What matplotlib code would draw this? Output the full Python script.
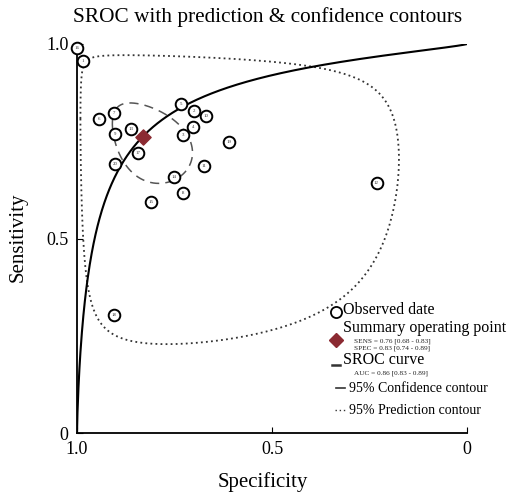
import numpy as np
import matplotlib.pyplot as plt
from matplotlib.lines import Line2D

plt.rcParams['font.family'] = ['Liberation Serif', 'DejaVu Serif']

# observed studies (specificity, sensitivity)
study = [16, 1, 6, 7, 9, 13, 17, 20, 5, 2, 10, 4, 3, 19, 11, 14, 8, 15, 12, 18]
spec = [1.00, 0.984, 0.943, 0.905, 0.902, 0.862, 0.843, 0.902, 0.734, 0.701,
        0.669, 0.703, 0.728, 0.611, 0.675, 0.752, 0.727, 0.810, 0.232, 0.904]
sens = [0.99, 0.957, 0.808, 0.823, 0.768, 0.781, 0.721, 0.691, 0.846, 0.828,
        0.815, 0.787, 0.767, 0.748, 0.686, 0.659, 0.616, 0.594, 0.642, 0.303]

# summary point and fitted model (logit scale)
sum_spec, sum_sens = 0.83, 0.76
sroc_a, sroc_b = 2.44, 0.80
conf_ax, conf_bx, conf_rho = 0.72, 0.57, 0.36
pred_ax, pred_bx, pred_rho = 3.14, 2.37, 0.12

ticks = [1.0, 0.5, 0.0]
tick_labels = ['1.0', '0.5', '0']


def logit(p):
    return np.log(p / (1 - p))


def expit(x):
    return 1 / (1 + np.exp(-x))


def contour(a, b, rho):
    t = np.linspace(0, 2 * np.pi, 500)
    cx, cy = logit(sum_spec), logit(sum_sens)
    x = cx + a * np.cos(t)
    y = cy + b * (rho * np.cos(t) + np.sqrt(1 - rho ** 2) * np.sin(t))
    return expit(x), expit(y)


W, H = 519, 496
fig = plt.figure(figsize=(W / 100, H / 100), dpi=100)
ax = fig.add_axes([77 / W, 1 - 433 / H, 390 / W, 389 / H])


def fx(px):
    return px / W


def fy(py):
    return 1 - py / H


# SROC curve
sp = np.linspace(0.0005, 0.99995, 800)
se = expit(sroc_a - sroc_b * logit(sp))
sp = np.concatenate([[0.0], sp, [1.0]])
se = np.concatenate([[1.0], se, [0.0]])
ax.plot(sp, se, color='black', lw=1.5, zorder=3)

# contours
px_, py_ = contour(pred_ax, pred_bx, pred_rho)
ax.plot(px_, py_, color='#333333', lw=1.3, ls=(0, (1, 1.8)), zorder=2)
cx_, cy_ = contour(conf_ax, conf_bx, conf_rho)
ax.plot(cx_, cy_, color='#555555', lw=1.1, ls=(0, (6, 4)), zorder=2)

# observed studies
ax.scatter(spec, sens, s=70, facecolor='white', edgecolor='black', lw=1.4,
           zorder=4, clip_on=False)
for s, x, y in zip(study, spec, sens):
    ax.text(x, y, str(s), fontsize=3.5, ha='center', va='center',
            color='#333333', zorder=5, clip_on=False)

# summary point
ax.scatter([sum_spec], [sum_sens], marker='D', s=60, color='#8b2a32',
           zorder=6)

ax.set_xlim(1, 0)
ax.set_ylim(0, 1)
ax.set_xticks(ticks)
ax.set_xticklabels(tick_labels)
ax.set_yticks(ticks)
ax.set_yticklabels(tick_labels)
ax.tick_params(direction='in', length=4, labelsize=13, pad=6)
for side in ['top', 'right']:
    ax.spines[side].set_visible(False)
for side in ['left', 'bottom']:
    ax.spines[side].set_linewidth(1.3)

fig.text(fx(263), fy(482), 'Specificity', fontsize=15, ha='center',
         va='center')
fig.text(fx(18), fy(237), 'Sensitivity', fontsize=15, ha='center',
         va='center', rotation=90)
fig.text(fx(268), fy(17), 'SROC with prediction & confidence contours',
         fontsize=15.3, ha='center', va='center')

# legend
fig.add_artist(Line2D([fx(336)], [fy(312)], marker='o', ms=8,
                      mfc='white', mec='black', mew=1.3))
fig.text(fx(343), fy(310), 'Observed date', fontsize=11.5, va='center')
fig.text(fx(343), fy(327.5), 'Summary operating point', fontsize=11.5,
         va='center')
fig.add_artist(Line2D([fx(336)], [fy(340)], marker='D', ms=7.5,
                      color='#8b2a32'))
fig.text(fx(354), fy(341), 'SENS = 0.76 [0.68 - 0.83]', fontsize=5.2,
         va='center', color='#222222')
fig.text(fx(354), fy(348), 'SPEC = 0.83 [0.74 - 0.89]', fontsize=5.2,
         va='center', color='#222222')
fig.add_artist(Line2D([fx(332), fx(340)], [fy(365)] * 2, color='#333333',
                      lw=1.8))
fig.text(fx(343), fy(360.5), 'SROC curve', fontsize=11.5, va='center')
fig.text(fx(354), fy(373.5), 'AUC = 0.86 [0.83 - 0.89]', fontsize=5.2,
         va='center', color='#222222')
fig.add_artist(Line2D([fx(336), fx(345)], [fy(388)] * 2, color='#333333',
                      lw=1.2))
fig.text(fx(349), fy(388), '95% Confidence contour', fontsize=10,
         va='center')
fig.add_artist(Line2D([fx(335), fx(345)], [fy(410)] * 2, color='#333333',
                      lw=1.0, ls=(0, (1, 2))))
fig.text(fx(349), fy(410), '95% Prediction contour', fontsize=10,
         va='center')

fig.savefig('out.png', dpi=100)
